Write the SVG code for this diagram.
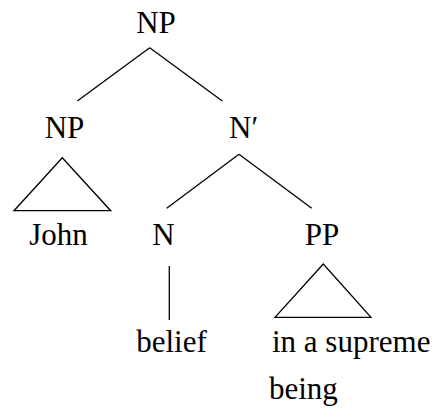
<svg xmlns="http://www.w3.org/2000/svg" width="439" height="408" viewBox="0 0 439 408">
<style>
text{font-family:'Liberation Serif','Times New Roman',serif;font-size:31px;fill:#000}
.c{text-anchor:middle}
line,polygon{stroke:#000;stroke-width:1.3;fill:none}
</style>
<rect width="439" height="408" fill="#fff"/>
<g id="connectors">
<line x1="149.7" y1="47.7" x2="77.3" y2="101"/>
<line x1="149.7" y1="47.7" x2="222.3" y2="101"/>
<line x1="239" y1="154.3" x2="166.7" y2="208.3"/>
<line x1="239" y1="154.3" x2="311.7" y2="208.3"/>
<polygon points="62.3,157.7 14,210.7 110.7,210.7"/>
<line x1="169.3" y1="266" x2="169.3" y2="320"/>
<polygon points="323.3,264 275,317.3 371,317.3"/>
</g>
<g id="np-root"><text class="c" x="156" y="33">NP</text></g>
<g id="np-john"><text class="c" x="64.5" y="138">NP</text></g>
<g id="nbar"><text x="229" y="138">N′</text></g>
<g id="john"><text class="c" x="58.5" y="245">John</text></g>
<g id="n"><text class="c" x="163.5" y="245">N</text></g>
<g id="pp"><text class="c" x="322" y="245">PP</text></g>
<g id="belief"><text class="c" x="171.5" y="352">belief</text></g>
<g id="pp-text"><text x="272" y="352">in a supreme</text><text x="269" y="399">being</text></g>
</svg>
